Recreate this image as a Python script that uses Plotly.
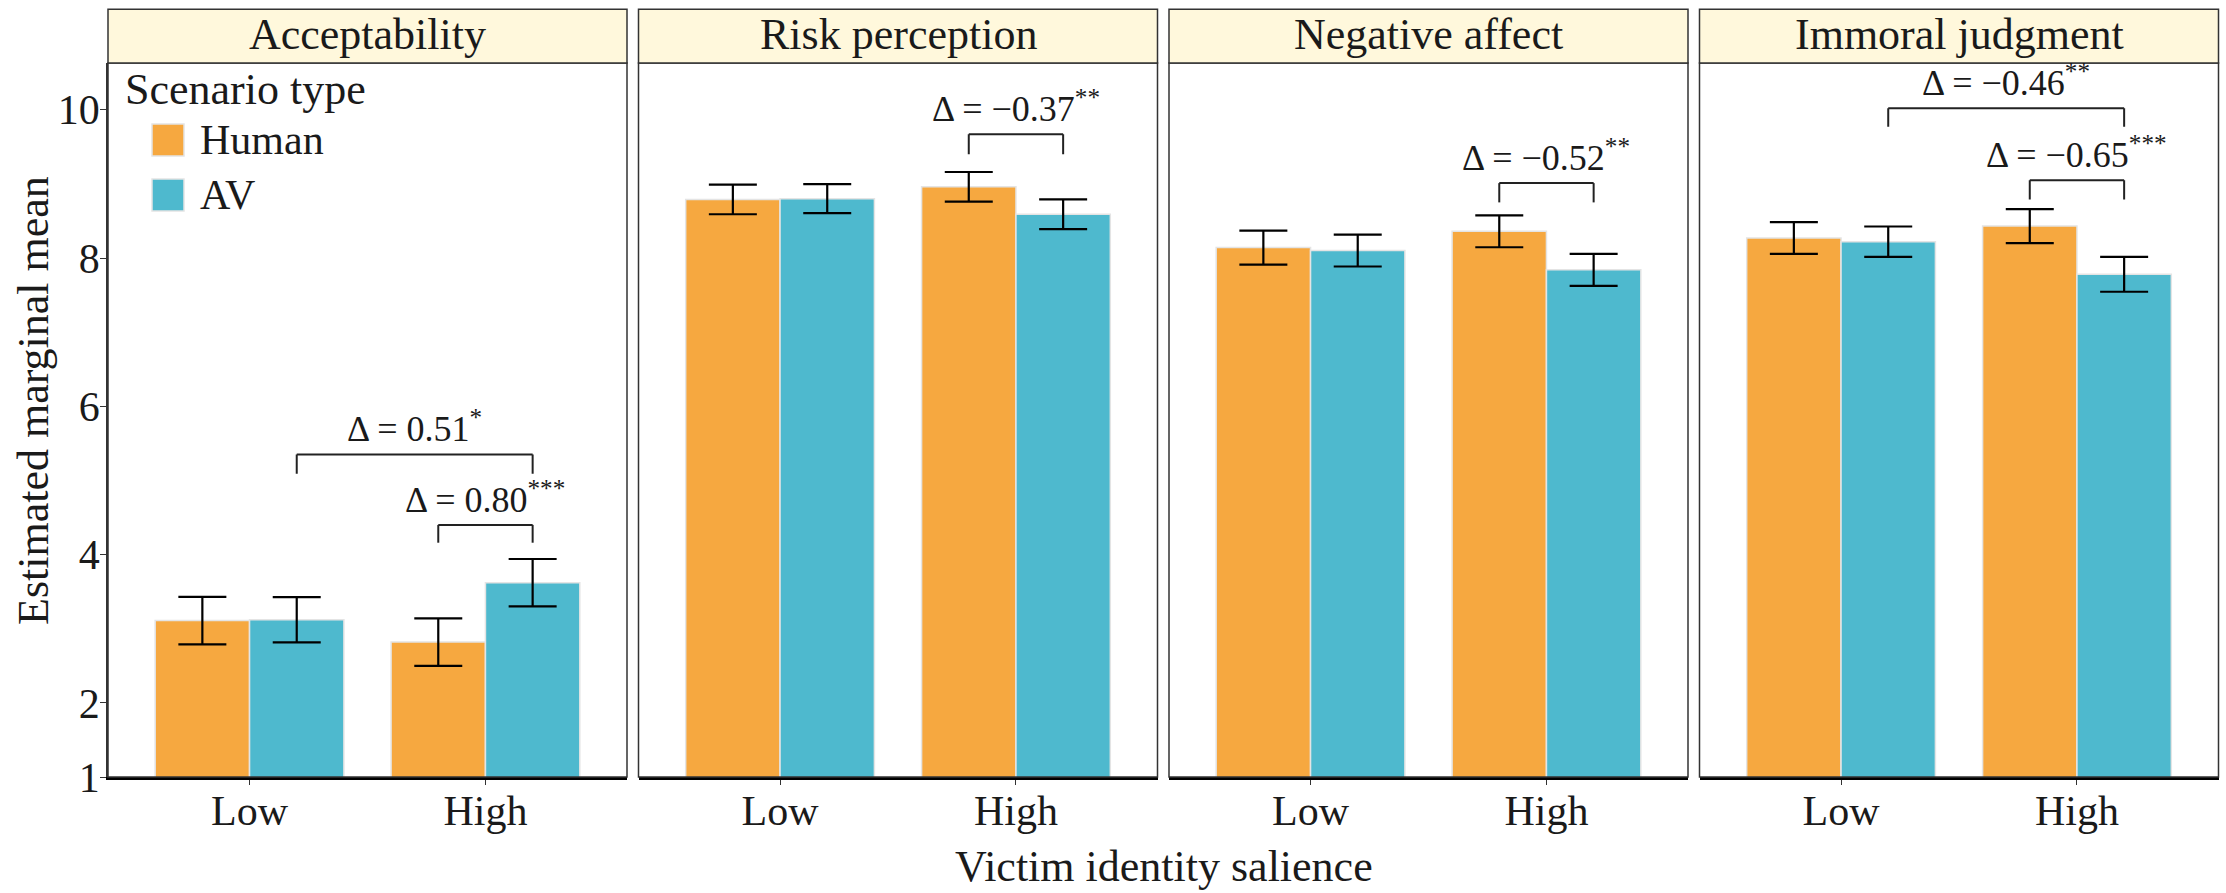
import plotly.graph_objects as go

# ---------------- data ----------------
panels = ["Acceptability", "Risk perception", "Negative affect", "Immoral judgment"]
salience = ["Low", "High"]
scenarios = ["Human", "AV"]

human_mean = [[3.11, 2.82], [8.79, 8.96], [8.14, 8.36], [8.27, 8.43]]
human_err = [[0.32, 0.32], [0.20, 0.20], [0.23, 0.215], [0.215, 0.23]]
av_mean = [[3.12, 3.62], [8.80, 8.59], [8.10, 7.84], [8.22, 7.78]]
av_err = [[0.305, 0.32], [0.195, 0.20], [0.215, 0.215], [0.205, 0.235]]

y_ticks = [1, 2, 4, 6, 8, 10]

# comparisons: panel, (salience, scenario) from, (salience, scenario) to, delta label, stars
comparisons = [
    (0, ("Low", "AV"), ("High", "AV"), "Δ = 0.51", "*"),
    (0, ("High", "Human"), ("High", "AV"), "Δ = 0.80", "***"),
    (1, ("High", "Human"), ("High", "AV"), "Δ = −0.37", "**"),
    (2, ("High", "Human"), ("High", "AV"), "Δ = −0.52", "**"),
    (3, ("Low", "AV"), ("High", "AV"), "Δ = −0.46", "**"),
    (3, ("High", "Human"), ("High", "AV"), "Δ = −0.65", "***"),
]
# bracket heights (top line, leg end) in data units
bracket_y = [(5.35, 5.09), (4.40, 4.16), (9.67, 9.40), (9.01, 8.75), (10.02, 9.77), (9.05, 8.79)]

# ---------------- style ----------------
FONT = "Liberation Serif"
TXT = "#1a1a1a"
colors = {"Human": "#F6A840", "AV": "#4EB9CE"}
W, H = 2226, 893
ML, MR, MT, MB = 108, 7, 63, 116
plot_w = W - ML - MR
plot_h = H - MT - MB
panel_w_px, gap_px = 519, 11.5
Y_RANGE = [1, 10.63]

fig = go.Figure()

bargap = 0.2
bar_w = (1 - bargap) / len(scenarios)
offsets = {s: -((1 - bargap) / 2) + bar_w * (k + 0.5) for k, s in enumerate(scenarios)}

for i, name in enumerate(panels):
    xa = "x" if i == 0 else f"x{i+1}"
    for s, means, errs in (("Human", human_mean, human_err), ("AV", av_mean, av_err)):
        fig.add_trace(go.Bar(
            x=salience, y=means[i], name=s, xaxis=xa, yaxis="y",
            marker=dict(color=colors[s], line=dict(color="#E4E4E4", width=1.5)),
            error_y=dict(type="data", array=errs[i], color="black", thickness=2.2, width=24),
            showlegend=False, offsetgroup=s,
        ))
    d0 = i * (panel_w_px + gap_px) / plot_w
    d1 = d0 + panel_w_px / plot_w
    axis = dict(
        domain=[d0, d1], anchor="y", type="category",
        categoryorder="array", categoryarray=salience, range=[-0.6, 1.6],
        showline=True, linecolor="black", linewidth=2.5,
        ticks="outside", ticklen=5, tickcolor="#333", tickwidth=1.2,
        ticklabelstandoff=-10,
        tickfont=dict(family=FONT, size=42, color=TXT),
        showgrid=False, zeroline=False, fixedrange=True,
    )
    fig.layout["xaxis" if i == 0 else f"xaxis{i+1}"] = axis

    xref_dom = ("x" if i == 0 else f"x{i+1}") + " domain"
    # panel border
    fig.add_shape(type="rect", xref=xref_dom, yref="paper", x0=0, x1=1, y0=0, y1=1,
                  line=dict(color="#333", width=1.5), layer="above")
    # strip
    strip_top = 1 + (MT - 9.3) / plot_h
    fig.add_shape(type="rect", xref=xref_dom, yref="paper", x0=0, x1=1, y0=1, y1=strip_top,
                  line=dict(color="#333", width=1.5), fillcolor="#FFF8DC", layer="above")
    fig.add_annotation(text=name, xref=xref_dom, yref="paper", x=0.5, y=(1 + strip_top) / 2,
                       xanchor="center", yanchor="middle", showarrow=False, yshift=2,
                       font=dict(family=FONT, size=44, color=TXT))

# brackets
for (p, a, b, lab, stars), (ytop, yleg) in zip(comparisons, bracket_y):
    xa = "x" if p == 0 else f"x{p+1}"
    xa_pos = salience.index(a[0]) + offsets[a[1]]
    xb_pos = salience.index(b[0]) + offsets[b[1]]
    ln = dict(color="#222", width=2)
    fig.add_shape(type="line", xref=xa, yref="y", x0=xa_pos, x1=xb_pos, y0=ytop, y1=ytop, line=ln)
    fig.add_shape(type="line", xref=xa, yref="y", x0=xa_pos, x1=xa_pos, y0=yleg, y1=ytop, line=ln)
    fig.add_shape(type="line", xref=xa, yref="y", x0=xb_pos, x1=xb_pos, y0=yleg, y1=ytop, line=ln)
    fig.add_annotation(text=f"{lab}<sup>{stars}</sup>", xref=xa, yref="y",
                       x=(xa_pos + xb_pos) / 2, y=ytop, xanchor="center", yanchor="bottom",
                       yshift=3, showarrow=False, font=dict(family=FONT, size=36, color=TXT))

# y axis
fig.update_layout(yaxis=dict(
    range=Y_RANGE, tickvals=y_ticks, ticktext=[str(t) for t in y_ticks],
    showline=True, linecolor="#333", linewidth=1.5,
    ticks="outside", ticklen=6, tickcolor="#333", tickwidth=1.2,
    ticklabelstandoff=-8,
    tickfont=dict(family=FONT, size=42, color=TXT),
    showgrid=False, zeroline=False, fixedrange=True, domain=[0, 1],
))

def px_x(px):
    return (px - ML) / plot_w

def px_y(py):
    return (H - MB - py) / plot_h

# custom legend
fig.add_annotation(text="Scenario type", xref="paper", yref="paper", x=px_x(123), y=px_y(90),
                   xanchor="left", yanchor="middle", showarrow=False,
                   font=dict(family=FONT, size=44, color=TXT))
key_top = [124, 179]
for s, kt in zip(scenarios, key_top):
    fig.add_shape(type="rect", xref="paper", yref="paper",
                  x0=px_x(152), x1=px_x(184), y0=px_y(kt + 32), y1=px_y(kt),
                  fillcolor=colors[s], line=dict(color="#E4E4E4", width=1.5))
    fig.add_annotation(text=s, xref="paper", yref="paper", x=px_x(198), y=px_y(kt + 16),
                       xanchor="left", yanchor="middle", showarrow=False,
                       font=dict(family=FONT, size=42, color=TXT))

# axis titles
fig.add_annotation(text="Victim identity salience", xref="paper", yref="paper",
                   x=0.5, y=px_y(866), xanchor="center", yanchor="middle", showarrow=False,
                   font=dict(family=FONT, size=44, color=TXT))
fig.add_annotation(text="Estimated marginal mean", xref="paper", yref="paper",
                   x=px_x(33), y=px_y(401), xanchor="center", yanchor="middle",
                   textangle=-90, showarrow=False,
                   font=dict(family=FONT, size=44, color=TXT))

fig.update_layout(
    width=W, height=H, margin=dict(l=ML, r=MR, t=MT, b=MB),
    barmode="group", bargap=bargap, bargroupgap=0,
    plot_bgcolor="white", paper_bgcolor="white", showlegend=False,
    font=dict(family=FONT, color=TXT),
)

fig.write_html("out.html", config={"displayModeBar": False},
               post_script="document.body.style.margin='0';document.body.style.overflow='hidden';")
